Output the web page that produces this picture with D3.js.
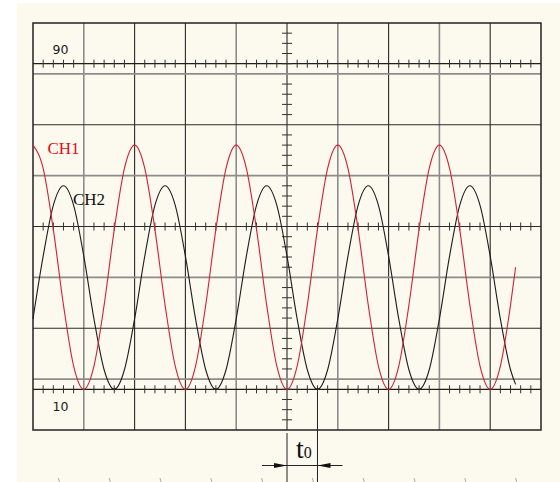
<!DOCTYPE html>
<meta charset="utf-8">
<style>
body { margin: 0; background: #fff; }
svg { display: block; }
.lbl { font-family: "DejaVu Sans", sans-serif; font-size: 12.5px; fill: #1a1a1a; }
.ser { font-family: "Liberation Serif", "DejaVu Serif", serif; }
</style>
<svg width="560" height="482"></svg>
<script src="https://d3js.org/d3.v7.min.js"></script>
<script>

// time in screen divisions (10 across), values in % of full height (0..100)
var time = [0, 0.2, 0.4, 0.6, 0.8, 1.0, 1.2, 1.4, 1.6, 1.8,
            2.0, 2.2, 2.4, 2.6, 2.8, 3.0, 3.2, 3.4, 3.6, 3.8,
            4.0, 4.2, 4.4, 4.6, 4.8, 5.0, 5.2, 5.4, 5.6, 5.8,
            6.0, 6.2, 6.4, 6.6, 6.8, 7.0, 7.2, 7.4, 7.6, 7.8,
            8.0, 8.2, 8.4, 8.6, 8.8, 9.0, 9.2, 9.4, 9.5];

var ch1 = [70, 64.3, 49.3, 30.7, 15.7, 10, 15.7, 30.7, 49.3, 64.3,
           70, 64.3, 49.3, 30.7, 15.7, 10, 15.7, 30.7, 49.3, 64.3,
           70, 64.3, 49.3, 30.7, 15.7, 10, 15.7, 30.7, 49.3, 64.3,
           70, 64.3, 49.3, 30.7, 15.7, 10, 15.7, 30.7, 49.3, 64.3,
           70, 64.3, 49.3, 30.7, 15.7, 10, 15.7, 30.7, 40];

var ch2 = [27.3, 42.7, 55.2, 60, 55.2, 42.7, 27.3, 14.8, 10, 14.8,
           27.3, 42.7, 55.2, 60, 55.2, 42.7, 27.3, 14.8, 10, 14.8,
           27.3, 42.7, 55.2, 60, 55.2, 42.7, 27.3, 14.8, 10, 14.8,
           27.3, 42.7, 55.2, 60, 55.2, 42.7, 27.3, 14.8, 10, 14.8,
           27.3, 42.7, 55.2, 60, 55.2, 42.7, 27.3, 14.8, 11.2];

var levelLines = [90, 10];        // 10% / 90% reference lines
var levelLabels = ["90", "10"];
var delay = [5, 5.6];             // t0 from CH1 trough to CH2 trough

var svg = d3.select("svg");

svg.append("rect")
  .attr("x", 17).attr("y", 3)
  .attr("width", 543).attr("height", 479)
  .attr("fill", "#fcf9ee");

var x = d3.scaleLinear().domain([0, 10]).range([33, 541]);
var y = d3.scaleLinear().domain([0, 100]).range([430, 23]);

var grayV = [1, 4, 6, 8], grayH = [1, 3, 5, 7];

// grid
var g = svg.append("g");
g.selectAll(".vg").data(d3.range(1, 10)).enter().append("line")
  .attr("x1", d => x(d)).attr("x2", d => x(d))
  .attr("y1", y(0)).attr("y2", y(100))
  .attr("stroke", d => grayV.includes(d) ? "#8c8c8c" : "#2a2a2a")
  .attr("stroke-width", d => grayV.includes(d) ? 1.6 : 1.1);

g.selectAll(".hg").data(d3.range(1, 8)).enter().append("line")
  .attr("x1", x(0)).attr("x2", x(10))
  .attr("y1", d => y(d * 12.5)).attr("y2", d => y(d * 12.5))
  .attr("stroke", d => grayH.includes(d) ? "#8c8c8c" : "#2a2a2a")
  .attr("stroke-width", d => grayH.includes(d) ? 1.6 : 1.1);

// 10% / 90% lines
g.selectAll(".lv").data(levelLines).enter().append("line")
  .attr("x1", x(0)).attr("x2", x(10))
  .attr("y1", d => y(d)).attr("y2", d => y(d))
  .attr("stroke", "#1e1e1e").attr("stroke-width", 1.2);

// minor ticks along horizontal lines (50, 90, 10)
var minorX = d3.range(1, 50).filter(k => k % 5 != 0).map(k => k * 0.2);
[50, 90, 10].forEach(function(lv) {
  g.selectAll(null).data(minorX).enter().append("line")
    .attr("x1", d => x(d)).attr("x2", d => x(d))
    .attr("y1", y(lv) - 4).attr("y2", y(lv) + 4)
    .attr("stroke", "#333").attr("stroke-width", 1);
});

// minor ticks along centre vertical
var minorY = d3.range(1, 40).filter(k => k % 5 != 0).map(k => k * 2.5);
g.selectAll(null).data(minorY).enter().append("line")
  .attr("x1", x(5) - 5).attr("x2", x(5) + 5)
  .attr("y1", d => y(d)).attr("y2", d => y(d))
  .attr("stroke", "#333").attr("stroke-width", 1);

// frame
svg.append("rect")
  .attr("x", x(0)).attr("y", y(100))
  .attr("width", x(10) - x(0)).attr("height", y(0) - y(100))
  .attr("fill", "none").attr("stroke", "#222").attr("stroke-width", 1.5);

// labels 90 / 10
svg.selectAll(".lvl").data(levelLabels).enter().append("text")
  .attr("class", "lbl")
  .attr("x", x(0) + 19.5).attr("y", (d, i) => i == 0 ? y(90) - 9.5 : y(10) + 22)
  .text(d => d);

// waveforms
var line1 = d3.line().x((d, i) => x(time[i])).y(d => y(d)).curve(d3.curveMonotoneX);

svg.append("path").datum(ch2)
  .attr("d", line1).attr("fill", "none")
  .attr("stroke", "#1c1c1c").attr("stroke-width", 1.1);

svg.append("path").datum(ch1)
  .attr("d", line1).attr("fill", "none")
  .attr("stroke", "#d22035").attr("stroke-width", 1.1);

svg.append("text").attr("class", "ser")
  .attr("x", x(0) + 14.5).attr("y", 154)
  .attr("font-size", 17).attr("fill", "#e01010")
  .text("CH1");

svg.append("text").attr("class", "ser")
  .attr("x", x(0) + 40).attr("y", 205)
  .attr("font-size", 17).attr("fill", "#111")
  .text("CH2");

// t0 dimension
var ann = svg.append("g").attr("stroke", "#222").attr("stroke-width", 1);
ann.append("line").attr("x1", x(delay[0])).attr("x2", x(delay[0]))
  .attr("y1", 433).attr("y2", 482);
ann.append("line").attr("x1", x(delay[1])).attr("x2", x(delay[1]))
  .attr("y1", 392).attr("y2", 482);
ann.append("line").attr("x1", x(delay[0]) - 25).attr("x2", x(delay[1]) + 25)
  .attr("y1", 465.5).attr("y2", 465.5);

svg.append("path")
  .attr("d", "M" + x(delay[0]) + ",465.5 l-13,-2.5 l0,5 z")
  .attr("fill", "#111");
svg.append("path")
  .attr("d", "M" + x(delay[1]) + ",465.5 l13,-2.5 l0,5 z")
  .attr("fill", "#111");

var t0 = svg.append("text").attr("class", "ser")
  .attr("x", x(delay[0]) + 9).attr("y", 457.5)
  .attr("fill", "#111");
t0.append("tspan").attr("font-size", 28).text("t");
t0.append("tspan").attr("font-size", 16).text("0");

// faint cut-off marks at the bottom edge
svg.selectAll(".bm").data(d3.range(0, 10)).enter().append("line")
  .attr("x1", d => x(d + 0.5)).attr("x2", d => x(d + 0.5) + 1)
  .attr("y1", 478).attr("y2", 482)
  .attr("stroke", "#aaa").attr("stroke-width", 1);

</script>
